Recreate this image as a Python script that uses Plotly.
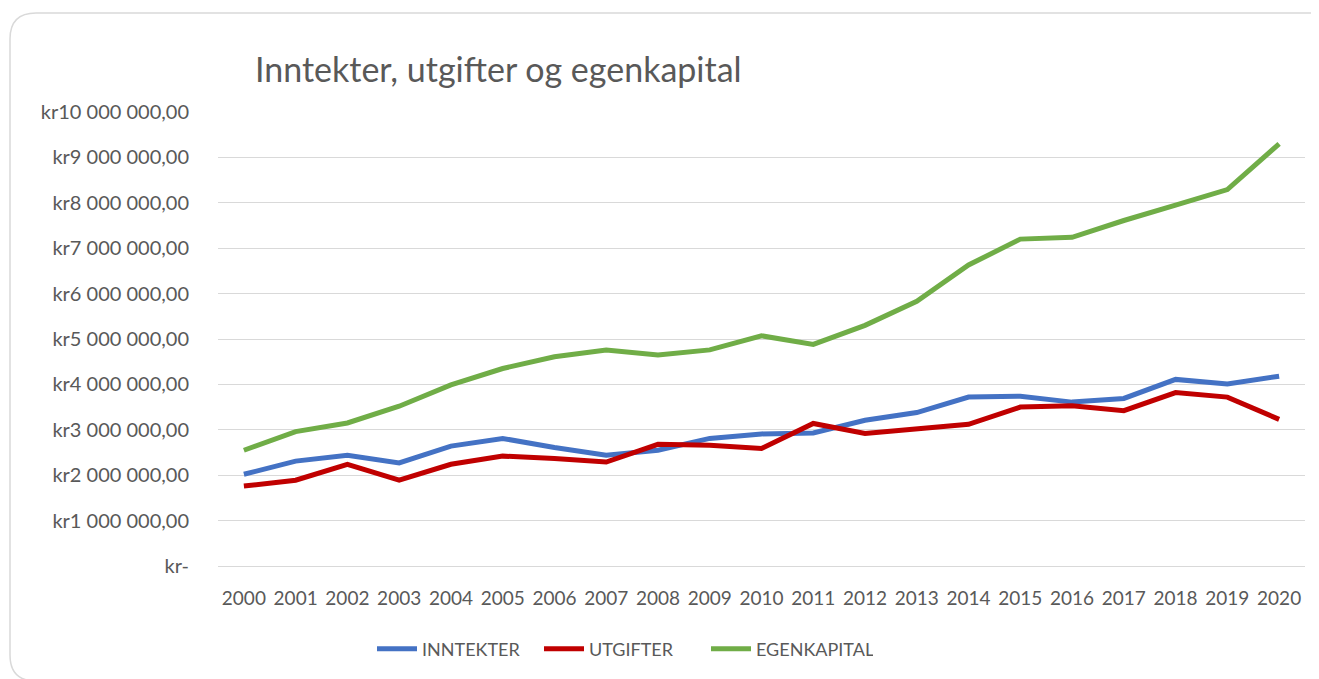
import plotly.graph_objects as go

years = [str(y) for y in range(2000, 2021)]
inntekter = [2.02, 2.31, 2.44, 2.27, 2.64, 2.81, 2.61, 2.44, 2.55, 2.81, 2.91,
             2.93, 3.21, 3.38, 3.72, 3.74, 3.61, 3.69, 4.11, 4.01, 4.18]
utgifter = [1.76, 1.89, 2.24, 1.89, 2.24, 2.42, 2.37, 2.29, 2.68, 2.66, 2.59,
            3.14, 2.92, 3.03, 3.12, 3.50, 3.53, 3.42, 3.82, 3.72, 3.23]
egenkapital = [2.55, 2.96, 3.15, 3.52, 3.99, 4.35, 4.61, 4.76, 4.65, 4.76, 5.07,
               4.88, 5.30, 5.83, 6.63, 7.20, 7.24, 7.61, 7.95, 8.29, 9.30]
inntekter = [v * 1_000_000 for v in inntekter]
utgifter = [v * 1_000_000 for v in utgifter]
egenkapital = [v * 1_000_000 for v in egenkapital]

y_tickvals = [i * 1_000_000 for i in range(0, 11)]
y_ticktext = ["kr-", "kr1 000 000,00", "kr2 000 000,00", "kr3 000 000,00",
              "kr4 000 000,00", "kr5 000 000,00", "kr6 000 000,00",
              "kr7 000 000,00", "kr8 000 000,00", "kr9 000 000,00",
              "kr10 000 000,00"]

series_names = ["INNTEKTER", "UTGIFTER", "EGENKAPITAL"]
colors = ["#4472C4", "#C00000", "#70AD47"]

# page body has an 8px margin; work in screen coordinates and subtract it
OFF = 8
W, H = 1319 - OFF, 679 - OFF
# plot area in screen coords: x 218..1305, y 112..566
L = 218 - OFF
R = W - (1305 - OFF)
T = 112 - OFF
B = H - (566 - OFF)
pw, ph = W - L - R, H - T - B

def px(x):
    return (x - OFF - L) / pw

def py(y):
    return ((566 - OFF) - (y - OFF)) / ph

fig = go.Figure()
for name, vals, c in zip(series_names, [inntekter, utgifter, egenkapital], colors):
    fig.add_trace(go.Scatter(x=years, y=vals, mode="lines", name=name,
                             line=dict(color=c, width=5)))

font_fam = "Lato, 'Open Sans', sans-serif"
txt = "#595959"

# rounded card border (screen coords): left 10, top 13, right 1335, bottom 681
cl, ct, cr, cb, rad = 10, 13, 1335, 681, 26
X = px
Y = py
path = (f"M {X(cl)},{Y(cb - rad)} "
        f"L {X(cl)},{Y(ct + rad)} Q {X(cl)},{Y(ct)} {X(cl + rad)},{Y(ct)} "
        f"L {X(cr - rad)},{Y(ct)} Q {X(cr)},{Y(ct)} {X(cr)},{Y(ct + rad)} "
        f"M {X(cl)},{Y(cb - rad)} Q {X(cl)},{Y(cb)} {X(cl + rad)},{Y(cb)} "
        f"L {X(cr)},{Y(cb)}")

fig.update_layout(
    width=W, height=H,
    paper_bgcolor="white", plot_bgcolor="white",
    margin=dict(l=L, r=R, t=T, b=B, autoexpand=False),
    showlegend=True,
    title=dict(text="Inntekter, utgifter og egenkapital",
               x=(255 - OFF) / W, xanchor="left", xref="container",
               y=1 - (70 - OFF) / H, yanchor="middle", yref="container",
               font=dict(family=font_fam, size=34, color=txt)),
    legend=dict(orientation="h", x=px(372), xanchor="left",
                y=py(649), yanchor="middle",
                font=dict(family=font_fam, size=18, color=txt),
                itemwidth=40, entrywidthmode="pixels", entrywidth=112,
                bgcolor="rgba(0,0,0,0)"),
    xaxis=dict(type="category", range=[-0.5, 20.5], showgrid=False,
               showline=True, linecolor="#D9D9D9", linewidth=1,
               ticks="outside", ticklen=15, tickcolor="rgba(0,0,0,0)",
               tickfont=dict(family=font_fam, size=19, color=txt),
               fixedrange=True),
    yaxis=dict(range=[0, 10_000_000], tickvals=y_tickvals, ticktext=y_ticktext,
               showgrid=True, gridcolor="#D9D9D9", gridwidth=1,
               zeroline=False, showline=False,
               ticks="outside", ticklen=24, tickcolor="rgba(0,0,0,0)",
               tickfont=dict(family=font_fam, size=20, color=txt),
               fixedrange=True),
    shapes=[dict(type="path", path=path, xref="paper", yref="paper",
                 line=dict(color="#D9D9D9", width=1.5), layer="below")],
)

fig.write_html("out.html")
